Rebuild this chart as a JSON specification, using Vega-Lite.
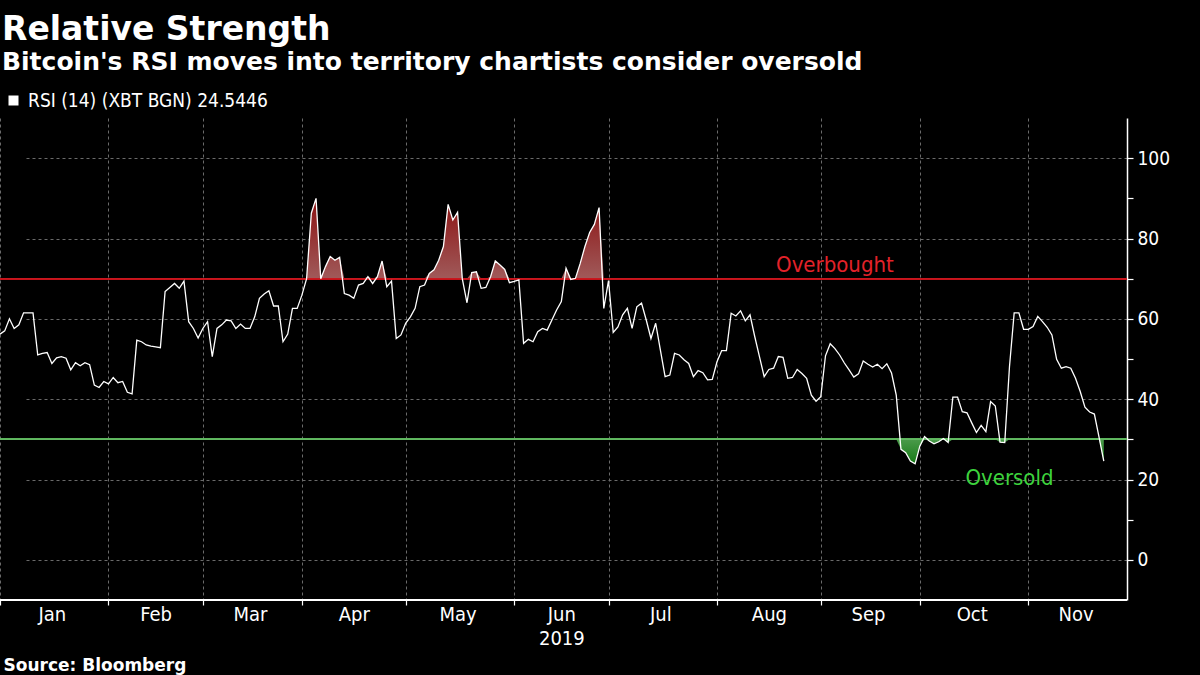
{
  "$schema": "https://vega.github.io/schema/vega-lite/v6.json",
  "width": 1127,
  "height": 482,
  "autosize": {"type": "none"},
  "padding": {"left": 0, "top": 118, "right": 73, "bottom": 75},
  "background": "#000000",
  "config": {"view": {"stroke": null}, "font": "DejaVu Sans"},
  "title": {
    "text": "Relative Strength",
    "subtitle": "Bitcoin's RSI moves into territory chartists consider oversold",
    "anchor": "start",
    "frame": "group",
    "font": "DejaVu Sans",
    "fontSize": 33,
    "fontWeight": "bold",
    "color": "#ffffff",
    "subtitleFont": "DejaVu Sans",
    "subtitleFontSize": 25,
    "subtitleFontWeight": "bold",
    "subtitleColor": "#ffffff",
    "subtitlePadding": 3,
    "offset": 16,
    "dx": 2
  },
  "data": {"values": [
    {"date":"2019-01-01","rsi":56.2},{"date":"2019-01-02","rsi":57},{"date":"2019-01-03","rsi":60},{"date":"2019-01-04","rsi":57.6},
    {"date":"2019-01-07","rsi":58.5},{"date":"2019-01-08","rsi":61.5},{"date":"2019-01-09","rsi":61.5},{"date":"2019-01-10","rsi":61.5},{"date":"2019-01-11","rsi":51},
    {"date":"2019-01-14","rsi":51.4},{"date":"2019-01-15","rsi":51.6},{"date":"2019-01-16","rsi":48.9},{"date":"2019-01-17","rsi":50.3},{"date":"2019-01-18","rsi":50.6},
    {"date":"2019-01-21","rsi":50.2},{"date":"2019-01-22","rsi":47.3},{"date":"2019-01-23","rsi":49.1},{"date":"2019-01-24","rsi":48.3},{"date":"2019-01-25","rsi":49.1},
    {"date":"2019-01-28","rsi":48.6},{"date":"2019-01-29","rsi":43.5},{"date":"2019-01-30","rsi":42.9},{"date":"2019-01-31","rsi":44.4},{"date":"2019-02-01","rsi":43.8},
    {"date":"2019-02-04","rsi":45.4},{"date":"2019-02-05","rsi":44.1},{"date":"2019-02-06","rsi":44.4},{"date":"2019-02-07","rsi":41.7},{"date":"2019-02-08","rsi":41.3},
    {"date":"2019-02-11","rsi":54.7},{"date":"2019-02-12","rsi":54.3},{"date":"2019-02-13","rsi":53.5},{"date":"2019-02-14","rsi":53.2},{"date":"2019-02-15","rsi":53},
    {"date":"2019-02-18","rsi":52.8},{"date":"2019-02-19","rsi":66.8},{"date":"2019-02-20","rsi":67.8},{"date":"2019-02-21","rsi":68.8},{"date":"2019-02-22","rsi":67.6},
    {"date":"2019-02-25","rsi":69.4},{"date":"2019-02-26","rsi":59.3},{"date":"2019-02-27","rsi":57.6},{"date":"2019-02-28","rsi":55.2},{"date":"2019-03-01","rsi":57.6},
    {"date":"2019-03-04","rsi":59.3},{"date":"2019-03-05","rsi":50.6},{"date":"2019-03-06","rsi":57.6},{"date":"2019-03-07","rsi":58.5},{"date":"2019-03-08","rsi":59.7},
    {"date":"2019-03-11","rsi":59.5},{"date":"2019-03-12","rsi":57.6},{"date":"2019-03-13","rsi":58.7},{"date":"2019-03-14","rsi":57.6},{"date":"2019-03-15","rsi":57.6},
    {"date":"2019-03-18","rsi":60.5},{"date":"2019-03-19","rsi":65.1},{"date":"2019-03-20","rsi":66.2},{"date":"2019-03-21","rsi":67},{"date":"2019-03-22","rsi":63.2},
    {"date":"2019-03-25","rsi":63.2},{"date":"2019-03-26","rsi":54.3},{"date":"2019-03-27","rsi":56.2},{"date":"2019-03-28","rsi":62.6},{"date":"2019-03-29","rsi":62.6},
    {"date":"2019-04-01","rsi":65.9},{"date":"2019-04-02","rsi":70},{"date":"2019-04-03","rsi":86.3},{"date":"2019-04-04","rsi":90},{"date":"2019-04-05","rsi":70},
    {"date":"2019-04-08","rsi":73},{"date":"2019-04-09","rsi":75.5},{"date":"2019-04-10","rsi":74.6},{"date":"2019-04-11","rsi":75.3},{"date":"2019-04-12","rsi":66.3},
    {"date":"2019-04-15","rsi":65.9},{"date":"2019-04-16","rsi":65.1},{"date":"2019-04-17","rsi":68.4},{"date":"2019-04-18","rsi":68.8},{"date":"2019-04-19","rsi":70.5},
    {"date":"2019-04-22","rsi":68.8},{"date":"2019-04-23","rsi":70.5},{"date":"2019-04-24","rsi":74.4},{"date":"2019-04-25","rsi":68},{"date":"2019-04-26","rsi":69.4},
    {"date":"2019-04-29","rsi":55.1},{"date":"2019-04-30","rsi":56},{"date":"2019-05-01","rsi":58.9},{"date":"2019-05-02","rsi":60.5},{"date":"2019-05-03","rsi":62.6},
    {"date":"2019-05-06","rsi":68},{"date":"2019-05-07","rsi":68.4},{"date":"2019-05-08","rsi":71.3},{"date":"2019-05-09","rsi":72.2},{"date":"2019-05-10","rsi":74.6},
    {"date":"2019-05-13","rsi":78},{"date":"2019-05-14","rsi":88.5},{"date":"2019-05-15","rsi":84.6},{"date":"2019-05-16","rsi":86.5},{"date":"2019-05-17","rsi":70},
    {"date":"2019-05-20","rsi":64},{"date":"2019-05-21","rsi":71.5},{"date":"2019-05-22","rsi":71.7},{"date":"2019-05-23","rsi":67.6},{"date":"2019-05-24","rsi":67.8},
    {"date":"2019-05-27","rsi":70.5},{"date":"2019-05-28","rsi":74.4},{"date":"2019-05-29","rsi":73.4},{"date":"2019-05-30","rsi":72.3},{"date":"2019-05-31","rsi":69},
    {"date":"2019-06-03","rsi":69.3},{"date":"2019-06-04","rsi":69.7},{"date":"2019-06-05","rsi":53.9},{"date":"2019-06-06","rsi":54.9},{"date":"2019-06-07","rsi":54.3},
    {"date":"2019-06-10","rsi":56.8},{"date":"2019-06-11","rsi":57.6},{"date":"2019-06-12","rsi":57.2},{"date":"2019-06-13","rsi":59.7},{"date":"2019-06-14","rsi":62.2},
    {"date":"2019-06-17","rsi":64.3},{"date":"2019-06-18","rsi":72.6},{"date":"2019-06-19","rsi":69.8},{"date":"2019-06-20","rsi":70.1},{"date":"2019-06-21","rsi":73.8},
    {"date":"2019-06-24","rsi":78},{"date":"2019-06-25","rsi":81.5},{"date":"2019-06-26","rsi":83.5},{"date":"2019-06-27","rsi":87.7},{"date":"2019-06-28","rsi":62.6},
    {"date":"2019-07-01","rsi":69.5},{"date":"2019-07-02","rsi":56.6},{"date":"2019-07-03","rsi":58},{"date":"2019-07-04","rsi":61},{"date":"2019-07-05","rsi":62.6},
    {"date":"2019-07-08","rsi":57.6},{"date":"2019-07-09","rsi":63},{"date":"2019-07-10","rsi":63.9},{"date":"2019-07-11","rsi":59.7},{"date":"2019-07-12","rsi":55.1},
    {"date":"2019-07-15","rsi":58.9},{"date":"2019-07-16","rsi":52.2},{"date":"2019-07-17","rsi":45.6},{"date":"2019-07-18","rsi":46},{"date":"2019-07-19","rsi":51.4},
    {"date":"2019-07-22","rsi":51},{"date":"2019-07-23","rsi":49.8},{"date":"2019-07-24","rsi":48.9},{"date":"2019-07-25","rsi":45.6},{"date":"2019-07-26","rsi":47.1},
    {"date":"2019-07-29","rsi":46.6},{"date":"2019-07-30","rsi":44.8},{"date":"2019-07-31","rsi":44.9},{"date":"2019-08-01","rsi":49.3},{"date":"2019-08-02","rsi":52.1},
    {"date":"2019-08-05","rsi":52.1},{"date":"2019-08-06","rsi":61.4},{"date":"2019-08-07","rsi":60.7},{"date":"2019-08-08","rsi":62},{"date":"2019-08-09","rsi":59.5},
    {"date":"2019-08-12","rsi":61},{"date":"2019-08-13","rsi":55.6},{"date":"2019-08-14","rsi":50.6},{"date":"2019-08-15","rsi":45.6},{"date":"2019-08-16","rsi":47.4},
    {"date":"2019-08-19","rsi":47.7},{"date":"2019-08-20","rsi":50.6},{"date":"2019-08-21","rsi":50.4},{"date":"2019-08-22","rsi":45.2},{"date":"2019-08-23","rsi":45.4},
    {"date":"2019-08-26","rsi":47.4},{"date":"2019-08-27","rsi":46.4},{"date":"2019-08-28","rsi":45.2},{"date":"2019-08-29","rsi":41},{"date":"2019-08-30","rsi":39.5},
    {"date":"2019-09-02","rsi":40.6},{"date":"2019-09-03","rsi":50.8},{"date":"2019-09-04","rsi":53.8},{"date":"2019-09-05","rsi":52.6},{"date":"2019-09-06","rsi":51},
    {"date":"2019-09-09","rsi":49},{"date":"2019-09-10","rsi":47.3},{"date":"2019-09-11","rsi":45.5},{"date":"2019-09-12","rsi":46.3},{"date":"2019-09-13","rsi":49.5},
    {"date":"2019-09-16","rsi":48.7},{"date":"2019-09-17","rsi":48},{"date":"2019-09-18","rsi":48.7},{"date":"2019-09-19","rsi":47.6},{"date":"2019-09-20","rsi":48.8},
    {"date":"2019-09-23","rsi":46.5},{"date":"2019-09-24","rsi":41},{"date":"2019-09-25","rsi":27.5},{"date":"2019-09-26","rsi":26.7},{"date":"2019-09-27","rsi":24.6},
    {"date":"2019-09-30","rsi":23.9},{"date":"2019-10-01","rsi":28.3},{"date":"2019-10-02","rsi":30.7},{"date":"2019-10-03","rsi":29.6},{"date":"2019-10-04","rsi":28.9},
    {"date":"2019-10-07","rsi":29.4},{"date":"2019-10-08","rsi":30.2},{"date":"2019-10-09","rsi":29.2},{"date":"2019-10-10","rsi":40.5},{"date":"2019-10-11","rsi":40.5},
    {"date":"2019-10-14","rsi":36.9},{"date":"2019-10-15","rsi":36.6},{"date":"2019-10-16","rsi":34.1},{"date":"2019-10-17","rsi":31.7},{"date":"2019-10-18","rsi":33.5},
    {"date":"2019-10-21","rsi":31.9},{"date":"2019-10-22","rsi":39.4},{"date":"2019-10-23","rsi":38.3},{"date":"2019-10-24","rsi":29.3},{"date":"2019-10-25","rsi":29.2},
    {"date":"2019-10-28","rsi":48},{"date":"2019-10-29","rsi":61.5},{"date":"2019-10-30","rsi":61.5},{"date":"2019-10-31","rsi":57.4},{"date":"2019-11-01","rsi":57.4},
    {"date":"2019-11-04","rsi":58.1},{"date":"2019-11-05","rsi":60.6},{"date":"2019-11-06","rsi":59.3},{"date":"2019-11-07","rsi":57.9},{"date":"2019-11-08","rsi":56},
    {"date":"2019-11-11","rsi":49.9},{"date":"2019-11-12","rsi":47.7},{"date":"2019-11-13","rsi":48.1},{"date":"2019-11-14","rsi":47.7},{"date":"2019-11-15","rsi":45.2},
    {"date":"2019-11-18","rsi":41.9},{"date":"2019-11-19","rsi":38},{"date":"2019-11-20","rsi":36.8},{"date":"2019-11-21","rsi":36.3},{"date":"2019-11-22","rsi":30.5},
    {"date":"2019-11-25","rsi":24.5446}
  ]},
  "layer": [
    {
      "mark": {"type": "area", "interpolate": "linear",
        "color": {"gradient": "linear", "x1": 0, "y1": 0, "x2": 0, "y2": 1,
          "stops": [{"offset": 0, "color": "#8c1212"}, {"offset": 1, "color": "#a05a5a"}]}},
      "encoding": {
        "x": {"field": "date", "type": "ordinal", "scale": {"type": "point", "padding": 0, "range": [0, 1103.8]},
          "axis": {"orient": "bottom",
            "values": ["2019-01-16","2019-02-15","2019-03-15","2019-04-16","2019-05-16","2019-06-17","2019-07-16","2019-08-16","2019-09-16","2019-10-16","2019-11-15"],
            "labelExpr": "datum.value == '2019-06-17' ? ['Jun', '2019'] : utcFormat(toDate(datum.value), '%b')",
            "domain": false, "ticks": false, "grid": false, "labelAngle": 0,
            "labelFont": "DejaVu Sans Condensed, DejaVu Sans", "labelFontSize": 20, "labelColor": "#ffffff",
            "labelPadding": 4, "labelBaseline": "top", "labelLineHeight": 24, "title": null}},
        "y": {"field": "rsi", "type": "quantitative",
          "scale": {"domain": [70, 110], "range": [160.67, 0], "clamp": true, "nice": false, "zero": false}, "axis": null},
        "y2": {"datum": 70}
      }
    },
    {
      "mark": {"type": "area", "interpolate": "linear",
        "color": {"gradient": "linear", "x1": 0, "y1": 0, "x2": 0, "y2": 1,
          "stops": [{"offset": 0, "color": "#4a9a4a"}, {"offset": 1, "color": "#157a15"}]}},
      "encoding": {
        "x": {"field": "date", "type": "ordinal", "scale": {"type": "point", "padding": 0, "range": [0, 1103.8]}, "axis": null},
        "y": {"field": "rsi", "type": "quantitative",
          "scale": {"domain": [-10, 30], "range": [482, 321.33], "clamp": true, "nice": false, "zero": false}, "axis": null},
        "y2": {"datum": 30}
      }
    },
    {
      "mark": {"type": "rule", "color": "#c8171e", "strokeWidth": 1.3},
      "encoding": {
        "y": {"datum": 70, "type": "quantitative", "scale": {"domain": [-10, 110], "nice": false, "zero": false}, "axis": null}
      }
    },
    {
      "mark": {"type": "rule", "color": "#62b862", "strokeWidth": 1.3},
      "encoding": {
        "y": {"datum": 30, "type": "quantitative", "scale": {"domain": [-10, 110], "nice": false, "zero": false}, "axis": null}
      }
    },
    {
      "mark": {"type": "rule", "color": "#ffffff", "strokeWidth": 1.5},
      "encoding": {
        "y": {"datum": -10, "type": "quantitative", "scale": {"domain": [-10, 110], "nice": false, "zero": false}, "axis": null}
      }
    },
    {
      "mark": {"type": "line", "strokeWidth": 1.3, "interpolate": "linear"},
      "encoding": {
        "x": {"field": "date", "type": "ordinal", "scale": {"type": "point", "padding": 0, "range": [0, 1103.8]},
          "axis": {"orient": "bottom",
            "values": ["2019-01-01","2019-02-01","2019-03-01","2019-04-01","2019-05-01","2019-06-03","2019-07-01","2019-08-01","2019-09-02","2019-10-01","2019-11-01"],
            "labels": false, "grid": true, "gridColor": "#6a6a6a", "gridDash": [3, 3], "gridWidth": 1,
            "ticks": true, "tickColor": "#ffffff", "tickSize": 5, "tickWidth": 1.2,
            "domain": false,
            "title": "Source: Bloomberg", "titleFont": "DejaVu Sans", "titleFontWeight": "bold", "titleFontSize": 17,
            "titleColor": "#ffffff", "titleAnchor": "start", "titleAlign": "left", "titleBaseline": "alphabetic",
            "titleX": 3, "titleY": 70}},
        "y": {"field": "rsi", "type": "quantitative", "scale": {"domain": [-10, 110], "nice": false, "zero": false},
          "axis": {"orient": "right", "values": [0, 10, 20, 30, 40, 50, 60, 70, 80, 90, 100],
            "labelExpr": "datum.value % 20 == 0 ? datum.label : ''",
            "grid": true, "gridColor": "#6a6a6a", "gridDash": [3, 3],
            "gridOpacity": {"condition": {"test": "datum.value % 20 == 0", "value": 1}, "value": 0},
            "domainColor": "#ffffff", "domainWidth": 1.5, "tickColor": "#ffffff", "tickSize": 6, "tickWidth": 1.2,
            "labelColor": "#ffffff", "labelFont": "DejaVu Sans Condensed, DejaVu Sans", "labelFontSize": 19,
            "labelPadding": 4, "title": null}},
        "color": {"datum": "RSI (14) (XBT BGN) 24.5446", "type": "nominal", "scale": {"range": ["#ffffff"]},
          "legend": {"orient": "none", "legendX": 4, "legendY": -27, "title": null, "padding": 0,
            "symbolType": "square", "symbolSize": 100, "symbolFillColor": "#ffffff", "symbolStrokeColor": "#ffffff",
            "symbolStrokeWidth": 0, "labelColor": "#ffffff", "labelFont": "DejaVu Sans Condensed, DejaVu Sans",
            "labelFontSize": 19, "labelOffset": 5, "labelLimit": 600}}
      }
    },
    {
      "data": {"values": [{"date": "2019-09-05", "label": "Overbought", "level": 70}]},
      "mark": {"type": "text", "color": "#e3222a", "font": "DejaVu Sans Condensed, DejaVu Sans", "fontSize": 22,
        "align": "center", "baseline": "alphabetic", "dy": -7},
      "encoding": {
        "x": {"field": "date", "type": "ordinal", "scale": {"type": "point", "padding": 0, "range": [0, 1103.8]}, "axis": null},
        "y": {"field": "level", "type": "quantitative", "scale": {"domain": [-10, 110], "nice": false, "zero": false}, "axis": null},
        "text": {"field": "label"}
      }
    },
    {
      "data": {"values": [{"date": "2019-10-28", "label": "Oversold", "level": 30}]},
      "mark": {"type": "text", "color": "#3dd33d", "font": "DejaVu Sans Condensed, DejaVu Sans", "fontSize": 22,
        "align": "center", "baseline": "top", "dy": 29},
      "encoding": {
        "x": {"field": "date", "type": "ordinal", "scale": {"type": "point", "padding": 0, "range": [0, 1103.8]}, "axis": null},
        "y": {"field": "level", "type": "quantitative", "scale": {"domain": [-10, 110], "nice": false, "zero": false}, "axis": null},
        "text": {"field": "label"}
      }
    }
  ],
  "resolve": {"scale": {"y": "independent"}, "axis": {"x": "independent"}}
}
